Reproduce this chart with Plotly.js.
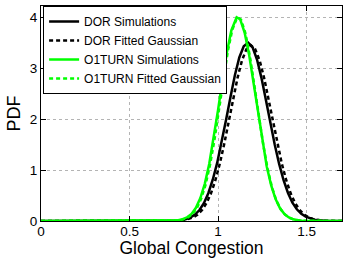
<!DOCTYPE html>
<html>
<head>
<meta charset="utf-8">
<script src="https://cdn.plot.ly/plotly-3.0.1.min.js"></script>
<style>html,body{margin:0;padding:0;background:#fff;}#chart{width:343px;height:258px;}</style>
</head>
<body>
<div id="chart"></div>
<script>
// Series names
const seriesNames = ['DOR Simulations', 'DOR Fitted Gaussian', 'O1TURN Simulations', 'O1TURN Fitted Gaussian'];

// DOR simulations (solid black)
const dorSimX = [0, 0.745, 0.77, 0.795, 0.82, 0.845, 0.87, 0.895, 0.92, 0.945, 0.97, 0.995, 1.02, 1.045, 1.07, 1.095, 1.12, 1.145, 1.17, 1.195, 1.22, 1.245, 1.27, 1.295, 1.32, 1.345, 1.37, 1.395, 1.42, 1.445, 1.47, 1.495, 1.52, 1.545, 1.57, 1.595, 1.62, 1.7];
const dorSimY = [0, 0.003, 0.008, 0.018, 0.036, 0.070, 0.125, 0.215, 0.35, 0.545, 0.81, 1.14, 1.54, 1.98, 2.43, 2.86, 3.21, 3.43, 3.50, 3.41, 3.17, 2.81, 2.38, 1.93, 1.50, 1.12, 0.80, 0.55, 0.36, 0.23, 0.14, 0.085, 0.048, 0.026, 0.013, 0.006, 0.002, 0];

// DOR fitted Gaussian (dotted black)
const dorFitX = [0, 0.76, 0.785, 0.81, 0.835, 0.86, 0.885, 0.91, 0.935, 0.96, 0.985, 1.01, 1.035, 1.06, 1.085, 1.11, 1.135, 1.16, 1.185, 1.21, 1.235, 1.26, 1.285, 1.31, 1.335, 1.36, 1.385, 1.41, 1.435, 1.46, 1.485, 1.51, 1.535, 1.56, 1.585, 1.61, 1.7];
const dorFitY = [0, 0.005, 0.010, 0.020, 0.039, 0.073, 0.129, 0.218, 0.352, 0.543, 0.80, 1.127, 1.516, 1.95, 2.39, 2.81, 3.15, 3.37, 3.45, 3.37, 3.15, 2.81, 2.39, 1.95, 1.516, 1.127, 0.80, 0.543, 0.352, 0.218, 0.129, 0.073, 0.039, 0.020, 0.010, 0.005, 0];

// O1TURN simulations (solid green)
const o1SimX = [0, 0.75, 0.775, 0.8, 0.825, 0.85, 0.875, 0.9, 0.925, 0.95, 0.975, 1.0, 1.025, 1.05, 1.075, 1.105, 1.125, 1.15, 1.175, 1.2, 1.225, 1.25, 1.275, 1.3, 1.325, 1.35, 1.375, 1.4, 1.425, 1.45, 1.475, 1.7];
const o1SimY = [0, 0.007, 0.017, 0.036, 0.073, 0.14, 0.26, 0.45, 0.73, 1.12, 1.61, 2.18, 2.77, 3.31, 3.74, 4.00, 3.96, 3.70, 3.27, 2.71, 2.12, 1.56, 1.07, 0.70, 0.43, 0.25, 0.135, 0.07, 0.033, 0.014, 0.006, 0];

// O1TURN fitted Gaussian (dotted green)
const o1FitX = [0, 0.755, 0.78, 0.805, 0.83, 0.855, 0.88, 0.905, 0.93, 0.955, 0.98, 1.005, 1.03, 1.055, 1.08, 1.105, 1.115, 1.13, 1.155, 1.18, 1.205, 1.23, 1.255, 1.28, 1.305, 1.33, 1.355, 1.38, 1.405, 1.43, 1.455, 1.48, 1.7];
const o1FitY = [0, 0.006, 0.015, 0.033, 0.069, 0.136, 0.252, 0.440, 0.72, 1.11, 1.60, 2.18, 2.78, 3.33, 3.75, 3.97, 3.99, 3.95, 3.68, 3.23, 2.66, 2.06, 1.50, 1.02, 0.656, 0.395, 0.224, 0.119, 0.060, 0.028, 0.012, 0.005, 0];

// Tick labels
const xTickVals = [0, 0.5, 1, 1.5];
const xTickText = ['0', '0.5', '1', '1.5'];
const yTickVals = [0, 1, 2, 3, 4];
const yTickText = ['0', '1', '2', '3', '4'];

const FONT = 'Liberation Sans, Arial, Helvetica, sans-serif';
const BLACK = '#000000';
const GREEN = '#00ff00';
const DOTS = '4px,3px';

const traces = [
  {x: dorSimX, y: dorSimY, name: seriesNames[0], mode: 'lines', line: {color: BLACK, width: 2.5, dash: 'solid'}},
  {x: dorFitX, y: dorFitY, name: seriesNames[1], mode: 'lines', line: {color: BLACK, width: 2.5, dash: DOTS}},
  {x: o1SimX, y: o1SimY, name: seriesNames[2], mode: 'lines', line: {color: GREEN, width: 2.5, dash: 'solid'}},
  {x: o1FitX, y: o1FitY, name: seriesNames[3], mode: 'lines', line: {color: GREEN, width: 2.5, dash: DOTS}}
];

const axisCommon = {
  showline: true, linecolor: BLACK, linewidth: 1, mirror: 'ticks',
  ticks: 'inside', ticklen: 5, tickcolor: BLACK, tickwidth: 1,
  showgrid: true, gridcolor: '#b4b4b4', griddash: 'dot', gridwidth: 1,
  zeroline: false, tickfont: {family: FONT, size: 13.5, color: BLACK},
  automargin: false
};

const layout = {
  width: 343, height: 258,
  margin: {l: 41, r: 1, t: 6, b: 37, pad: 0},
  paper_bgcolor: '#ffffff', plot_bgcolor: '#ffffff',
  font: {family: FONT, color: BLACK},
  showlegend: true,
  legend: {
    x: 0.007, y: 1, xanchor: 'left', yanchor: 'top',
    bgcolor: '#ffffff', bordercolor: BLACK, borderwidth: 1,
    font: {family: FONT, size: 12, color: BLACK},
    tracegroupgap: 0
  },
  xaxis: Object.assign({}, axisCommon, {
    range: [0, 1.7], tickmode: 'array', tickvals: xTickVals, ticktext: xTickText,
    ticklabelstandoff: -2,
    title: {text: 'Global Congestion', font: {family: FONT, size: 17.5, color: BLACK}, standoff: 3}
  }),
  yaxis: Object.assign({}, axisCommon, {
    range: [0, 4.22], tickmode: 'array', tickvals: yTickVals, ticktext: yTickText,
    title: {text: 'PDF', font: {family: FONT, size: 18, color: BLACK}, standoff: 4}
  })
};

Plotly.newPlot('chart', traces, layout, {displayModeBar: false, staticPlot: true});
</script>
</body>
</html>
